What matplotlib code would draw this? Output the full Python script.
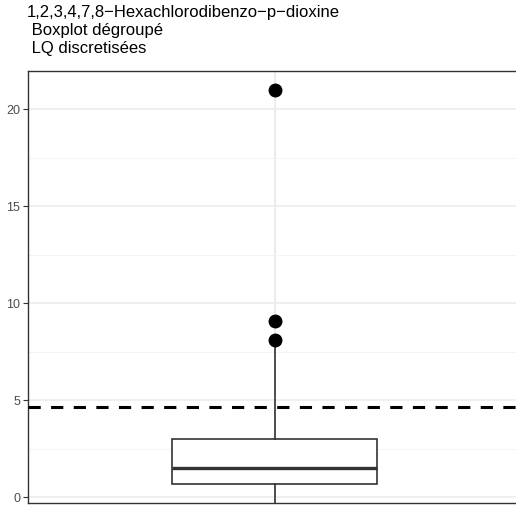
"""Boxplot dégroupé, LQ discretisées - 1,2,3,4,7,8-HxCDD."""
import matplotlib
matplotlib.use("Agg")
import matplotlib.pyplot as plt
from matplotlib.ticker import MultipleLocator

plt.rcParams["font.family"] = ["Liberation Sans", "DejaVu Sans"]

# box statistics
q1 = 0.70
median = 1.52
q3 = 3.0
whisker_low = -1.0   # runs past the bottom of the panel
whisker_high = 8.1
outliers = [8.1, 9.1, 21.0]
seuil = 4.65          # dashed reference line

title_lines = ["1,2,3,4,7,8\u2212Hexachlorodibenzo\u2212p\u2212dioxine",
               " Boxplot dégroupé",
               " LQ discretisées"]
y_ticks = [0, 5, 10, 15, 20]


def main() -> None:
    fig = plt.figure(figsize=(5.16, 5.05), dpi=100)
    ax = fig.add_axes([28 / 516, 1.7 / 505, 493 / 516, 432.6 / 505])

    ax.set_xlim(0.4, 1.6)
    ax.set_ylim(-0.30, 21.99)

    # theme_bw grid
    ax.yaxis.set_minor_locator(MultipleLocator(2.5))
    ax.set_yticks(y_ticks)
    ax.set_xticks([1])
    ax.grid(True, which="major", color="#EBEBEB", lw=1.1, zorder=0)
    ax.grid(True, which="minor", axis="y", color="#F3F3F3", lw=0.6, zorder=0)
    ax.set_axisbelow(True)
    for s in ax.spines.values():
        s.set_color("#333333")
        s.set_linewidth(1.0)

    stats = [{"med": median, "q1": q1, "q3": q3, "whislo": whisker_low,
              "whishi": whisker_high, "fliers": []}]
    ax.bxp(stats, positions=[1], widths=0.5, showcaps=False, patch_artist=True,
           boxprops=dict(facecolor="white", edgecolor="#333333", lw=1.2),
           whiskerprops=dict(color="#333333", lw=1.2),
           medianprops=dict(color="#333333", lw=2.4),
           zorder=3)
    ax.plot([1] * len(outliers), outliers, "o", color="black", ms=9, zorder=4)

    ax.axhline(seuil, color="black", lw=2.2, ls=(0, (4, 3.4)), zorder=5)

    ax.tick_params(axis="y", colors="#333333", labelcolor="#4D4D4D",
                   labelsize=9, length=3.5, width=0.8, pad=2)
    ax.tick_params(axis="y", which="minor", length=0)
    ax.tick_params(axis="x", length=0, labelbottom=False)

    for i, line in enumerate(title_lines):
        fig.text(27 / 516, 1 - (12 + 18.2 * i) / 505, line, fontsize=12,
                 va="center", ha="left", color="black")

    fig.savefig("out.png", dpi=100)
    plt.close(fig)


if __name__ == "__main__":
    main()
